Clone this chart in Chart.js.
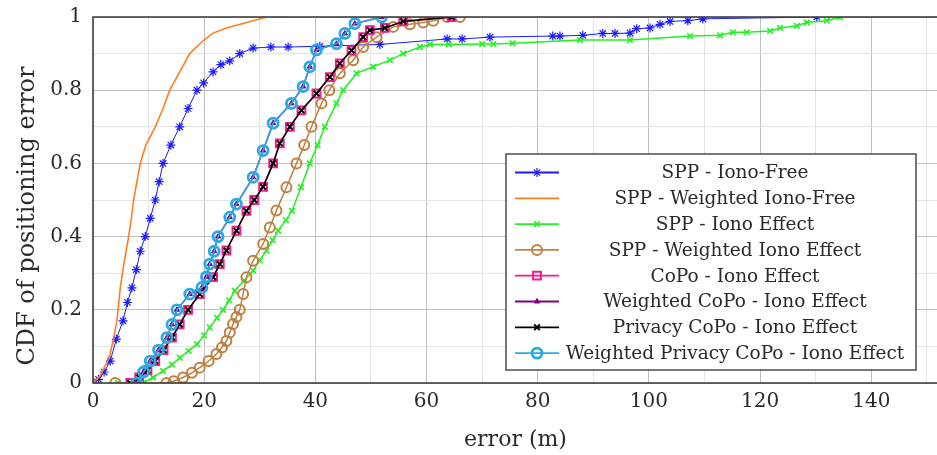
<!DOCTYPE html>
<html>
<head>
<meta charset="utf-8">
<script src="https://cdn.jsdelivr.net/npm/chart.js"></script>
<style>
  html, body { margin: 0; padding: 0; background: #fff; overflow: hidden; }
  #wrap { width: 938px; height: 455px; }
</style>
</head>
<body>
<div id="wrap"><canvas id="cdf"></canvas></div>
<script>
// CDF of positioning error, [error m, cdf]
const seriesNames = [
  'SPP - Iono-Free',
  'SPP - Weighted Iono-Free',
  'SPP - Iono Effect',
  'SPP - Weighted Iono Effect',
  'CoPo - Iono Effect',
  'Weighted CoPo - Iono Effect',
  'Privacy CoPo - Iono Effect',
  'Weighted Privacy CoPo - Iono Effect'
];
const yTitle = 'CDF of positioning error';
const xTitle = 'error (m)';

const sppIonoFree = [[0,0],[1,0.01],[2,0.03],[3.1,0.06],[4.2,0.12],[5.4,0.17],[6.2,0.22],[7,0.26],
  [7.8,0.31],[8.5,0.36],[9.4,0.4],[10.3,0.45],[11.2,0.5],[11.9,0.55],[12.6,0.6],[14,0.65],[15.6,0.7],
  [17.1,0.75],[18.7,0.8],[19.9,0.82],[21.6,0.85],[23,0.87],[24.6,0.88],[26.4,0.9],[28.8,0.915],
  [32,0.918],[35.1,0.918],[40.8,0.92],[51.6,0.925],[63.7,0.94],[66.4,0.94],[71.4,0.945],[82.7,0.948],
  [84,0.948],[88.1,0.95],[91.7,0.955],[93.9,0.955],[96.6,0.956],[97.8,0.968],[100.2,0.97],[102,0.98],
  [103.8,0.988],[107,0.99],[109.7,0.995],[130.2,1]];

const sppWeightedIonoFree = [[0,0],[1.3,0.02],[2.3,0.05],[3.1,0.08],[3.8,0.13],[4.3,0.17],[4.9,0.26],
  [5.6,0.33],[6.3,0.39],[6.9,0.45],[7.3,0.5],[7.9,0.55],[8.5,0.6],[9.5,0.65],[11.2,0.7],[12.6,0.75],
  [13.8,0.8],[15.6,0.85],[17.4,0.9],[19.8,0.935],[21.6,0.956],[24,0.97],[28.8,0.99],[31.3,1],[34.9,1]];

const sppIonoEffect = [[4.5,0],[9,0],[10.8,0.015],[12.6,0.033],[14.2,0.05],[15.6,0.069],[17.2,0.088],
  [18.7,0.106],[20,0.13],[21,0.152],[22.3,0.178],[23.4,0.2],[24.5,0.226],[25.5,0.252],[27.2,0.28],
  [28.8,0.307],[30,0.335],[31.2,0.362],[32.3,0.39],[33.3,0.416],[34.7,0.445],[35.8,0.47],[37.4,0.535],
  [39,0.6],[40.4,0.65],[41.7,0.7],[43.8,0.764],[45,0.8],[47.4,0.846],[50.4,0.864],[53.4,0.882],
  [55.8,0.9],[58.8,0.918],[60.6,0.925],[64,0.925],[70,0.926],[72,0.926],[75.5,0.928],[87.6,0.937],
  [96.6,0.937],[107.4,0.948],[112.8,0.95],[115.1,0.958],[117.6,0.958],[121.8,0.962],[123.6,0.97],
  [126.6,0.976],[128.4,0.985],[132,0.99],[134.4,1],[160,1]];

const sppWeightedIonoEffect = [[4,0],[13.2,0],[14.5,0.005],[16.2,0.015],[17.8,0.028],[19.2,0.042],
  [20.8,0.06],[22.2,0.079],[23.2,0.097],[24,0.115],[24.6,0.138],[25.2,0.161],[25.8,0.18],[26.4,0.2],
  [27,0.243],[27.6,0.289],[28.8,0.334],[30.6,0.38],[31.8,0.425],[33,0.471],[34.8,0.535],[36.6,0.6],
  [38,0.65],[39.3,0.7],[41.1,0.764],[42.5,0.8],[44.4,0.846],[46.8,0.882],[48.6,0.918],[51,0.945],
  [54,0.973],[57,0.98],[59.4,0.985],[61.2,0.99],[63.7,1],[66,1]];

const copoIonoEffect = [[6.7,0],[8.3,0.015],[9.8,0.035],[11.2,0.06],[12.7,0.09],[14.2,0.124],
  [15.6,0.16],[17.1,0.2],[19.2,0.243],[21.6,0.289],[22.8,0.325],[24,0.362],[25.8,0.416],[27.6,0.47],
  [29,0.5],[30.6,0.536],[32.4,0.6],[33.6,0.655],[35.4,0.7],[37.5,0.745],[40.2,0.791],[42.6,0.836],
  [44.4,0.873],[46.5,0.909],[48.6,0.945],[49.8,0.964],[52.5,0.97],[55.8,0.988],[64.5,1]];

const weightedCopoIonoEffect = [[7.9,0],[9.1,0.03],[10.3,0.06],[11.8,0.09],[13.3,0.124],[14.2,0.16],
  [15.1,0.2],[17.4,0.243],[19.6,0.261],[20.4,0.29],[21,0.325],[21.8,0.36],[22.5,0.4],[24.6,0.453],
  [25.8,0.489],[28.8,0.562],[30.6,0.635],[32.4,0.71],[35.7,0.764],[37.8,0.81],[39,0.864],[40.2,0.91],
  [43.8,0.927],[45.3,0.955],[47.1,0.982],[51.9,1]];

const privacyCopoIonoEffect = [[6.7,0],[8.3,0.015],[9.8,0.035],[11.2,0.06],[12.7,0.09],[14.2,0.124],
  [15.6,0.16],[17.1,0.2],[19.2,0.243],[21.6,0.289],[22.8,0.325],[24,0.362],[25.8,0.416],[27.6,0.47],
  [29,0.5],[30.6,0.536],[32.4,0.6],[33.6,0.655],[35.4,0.7],[37.5,0.745],[40.2,0.791],[42.6,0.836],
  [44.4,0.873],[46.5,0.909],[48.6,0.945],[49.8,0.964],[52.5,0.97],[55.8,0.988],[64.5,1]];

const weightedPrivacyCopoIonoEffect = [[7.9,0],[9.1,0.03],[10.3,0.06],[11.8,0.09],[13.3,0.124],[14.2,0.16],
  [15.1,0.2],[17.4,0.243],[19.6,0.261],[20.4,0.29],[21,0.325],[21.8,0.36],[22.5,0.4],[24.6,0.453],
  [25.8,0.489],[28.8,0.562],[30.6,0.635],[32.4,0.71],[35.7,0.764],[37.8,0.81],[39,0.864],[40.2,0.91],
  [43.8,0.927],[45.3,0.955],[47.1,0.982],[51.9,1]];

const seriesData = [sppIonoFree, sppWeightedIonoFree, sppIonoEffect, sppWeightedIonoEffect,
  copoIonoEffect, weightedCopoIonoEffect, privacyCopoIonoEffect, weightedPrivacyCopoIonoEffect];

// look of each series (pgfplots-like marks)
const styles = [
  { color: '#1a1aff', style: 'star',     r: 4.5, bw: 1.2, lw: 1,   fill: 'rgba(0,0,0,0)' },
  { color: '#ff7f1e', style: false,      r: 0,   bw: 0,   lw: 1.6, fill: 'rgba(0,0,0,0)' },
  { color: '#22f022', style: 'crossRot', r: 4,   bw: 1.6, lw: 1.5, fill: 'rgba(0,0,0,0)' },
  { color: '#bf8040', style: 'circle',   r: 5,   bw: 2,   lw: 1.5, fill: 'rgba(0,0,0,0)' },
  { color: '#ee1e8c', style: 'rect',     r: 5.5, bw: 2,   lw: 1.5, fill: 'rgba(0,0,0,0)' },
  { color: '#800080', style: 'triangle', r: 3,   bw: 1,   lw: 1.5, fill: '#800080' },
  { color: '#000000', style: 'crossRot', r: 4,   bw: 2,   lw: 1.5, fill: 'rgba(0,0,0,0)' },
  { color: '#29a9e6', style: 'circle',   r: 5,   bw: 2.8, lw: 1.5, fill: 'rgba(0,0,0,0)' }
];

const FONT = '"DejaVu Serif", "Liberation Serif", serif';
const TEXT = '#2a2a2a';

const datasets = seriesData.map((d, i) => ({
  label: seriesNames[i],
  data: d.map(p => ({ x: p[0], y: p[1] })),
  borderColor: styles[i].color,
  backgroundColor: styles[i].color,
  borderWidth: styles[i].lw,
  pointStyle: styles[i].style,
  pointRadius: styles[i].r,
  pointBorderWidth: styles[i].bw,
  pointBorderColor: styles[i].color,
  pointBackgroundColor: styles[i].fill,
  tension: 0,
  fill: false,
  order: seriesData.length - i   // later series on top, like pgfplots
}));

// axis frame over the plot + rotated y title (sits a bit below the axis middle)
const framePlugin = {
  id: 'frame',
  afterDatasetsDraw(chart) {
    const { ctx, chartArea: a } = chart;
    ctx.save();
    ctx.strokeStyle = '#404040';
    ctx.lineWidth = 1.6;
    ctx.strokeRect(a.left, a.top, a.right - a.left, a.bottom - a.top);
    ctx.translate(28, 216);
    ctx.rotate(-Math.PI / 2);
    ctx.font = '24px ' + FONT;
    ctx.fillStyle = TEXT;
    ctx.textAlign = 'center';
    ctx.textBaseline = 'middle';
    ctx.fillText(yTitle, 0, 0);
    ctx.restore();
  }
};

// boxed legend inside the plot, bottom right
const legendPlugin = {
  id: 'boxLegend',
  afterDraw(chart) {
    const ctx = chart.ctx;
    const box = { left: 506, top: 154, right: 916, bottom: 370 };
    ctx.save();
    ctx.fillStyle = '#fff';
    ctx.fillRect(box.left, box.top, box.right - box.left, box.bottom - box.top);
    ctx.strokeStyle = '#404040';
    ctx.lineWidth = 1.4;
    ctx.strokeRect(box.left, box.top, box.right - box.left, box.bottom - box.top);
    ctx.font = '18.5px ' + FONT;
    ctx.textAlign = 'center';
    ctx.textBaseline = 'middle';
    seriesNames.forEach((name, i) => {
      const y = 172.5 + i * 25.8;
      const s = styles[i];
      ctx.strokeStyle = s.color;
      ctx.lineWidth = Math.max(s.lw, 1.8);
      ctx.beginPath();
      ctx.moveTo(515, y);
      ctx.lineTo(559, y);
      ctx.stroke();
      if (s.style && Chart.helpers && Chart.helpers.drawPoint) {
        ctx.strokeStyle = s.color;
        ctx.fillStyle = s.fill;
        ctx.lineWidth = s.bw;
        Chart.helpers.drawPoint(ctx, { pointStyle: s.style, radius: s.r, rotation: 0, borderWidth: s.bw }, 537, y);
      }
      ctx.fillStyle = TEXT;
      ctx.fillText(name, 735, y + 1);
    });
    ctx.restore();
  }
};

new Chart(document.getElementById('cdf'), {
  type: 'line',
  data: { datasets },
  options: {
    responsive: true,
    maintainAspectRatio: false,
    animation: false,
    layout: { autoPadding: false, padding: { top: 17, left: 0, right: 0, bottom: 0 } },
    plugins: { legend: { display: false }, tooltip: { enabled: false } },
    scales: {
      x: {
        type: 'linear',
        min: 0,
        max: 152,
        afterFit: s => { s.height = 72; s.paddingLeft = 0; s.paddingRight = 0; },
        ticks: {
          stepSize: 10,
          includeBounds: false,
          padding: 7,
          color: TEXT,
          font: { family: FONT, size: 20 },
          maxRotation: 0,
          autoSkip: false,
          callback: v => (v % 20 === 0 ? String(v) : '')
        },
        grid: {
          drawTicks: false,
          lineWidth: 1,
          color: c => (c.tick.value % 20 === 0 ? '#c0c0c0' : '#e4e4e4')
        },
        border: { display: false },
        title: {
          display: true,
          text: xTitle,
          color: TEXT,
          font: { family: FONT, size: 22 },
          padding: { top: 0, bottom: 2 }
        }
      },
      y: {
        min: 0,
        max: 1,
        afterFit: s => { s.width = 93; s.paddingTop = 0; s.paddingBottom = 0; },
        ticks: {
          stepSize: 0.1,
          padding: 11,
          color: TEXT,
          font: { family: FONT, size: 20 },
          callback: v => {
            const k = Math.round(v * 10);
            if (k % 2 !== 0) return '';
            return k === 0 ? '0' : k === 10 ? '1' : (k / 10).toFixed(1);
          }
        },
        grid: {
          drawTicks: false,
          lineWidth: 1,
          color: c => (Math.round(c.tick.value * 10) % 2 === 0 ? '#c0c0c0' : '#e4e4e4')
        },
        border: { display: false },
        title: { display: false }
      }
    }
  },
  plugins: [framePlugin, legendPlugin]
});
</script>
</body>
</html>
